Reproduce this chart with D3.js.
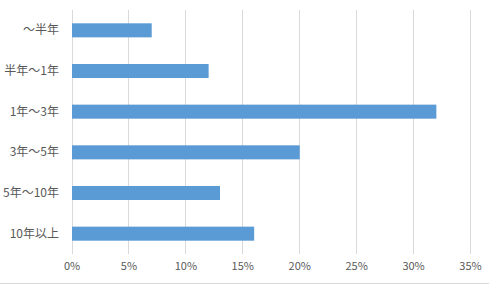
<!DOCTYPE html>
<html lang="ja">
<head>
	<meta charset="utf-8">
	<title>期間別割合</title>
	<script src="https://d3js.org/d3.v7.min.js"></script>
	<style>
		body{ margin: 0; background: #fff; }
		.axis text{ font-family: "Noto Sans CJK JP", sans-serif; font-size: 11px; fill: #595959; }
		.axis.y text{ font-size: 12px; }
	</style>
</head>
<body>
	<script>
		// data
		var categories = ["～半年", "半年～1年", "1年～3年", "3年～5年", "5年～10年", "10年以上"];
		var values = [7, 12, 32, 20, 13, 16];
		var tickValues = [0, 5, 10, 15, 20, 25, 30, 35];

		var w = 489;
		var h = 285;

		var svg = d3.select("body")
			.append("svg")
			.attr("width", w)
			.attr("height", h)
			;

		var xScale = d3.scaleLinear()
			.domain([0, 35])
			.range([71.5, 470]);

		var yScale = d3.scaleBand()
			.domain(categories)
			.range([10, 254])
			.paddingInner(0.655)
			.paddingOuter(0.3275);

		// vertical gridlines
		svg.selectAll("line.grid")
			.data(tickValues)
			.enter()
			.append("line")
			.attr("class", "grid")
			.attr("x1", function(d){ return Math.round(xScale(d)) + 0.5; })
			.attr("x2", function(d){ return Math.round(xScale(d)) + 0.5; })
			.attr("y1", 10)
			.attr("y2", 254)
			.attr("stroke", "#d9d9d9")
			.attr("stroke-width", 1)
			;

		// bars
		svg.selectAll("rect.bar")
			.data(values)
			.enter()
			.append("rect")
			.attr("class", "bar")
			.attr("x", xScale(0) + 0.5)
			.attr("y", function(d, i){ return yScale(categories[i]); })
			.attr("width", function(d){ return xScale(d) - xScale(0); })
			.attr("height", yScale.bandwidth())
			.attr("fill", "#5b9bd5")
			;

		// x axis labels
		var xAxis = d3.axisBottom(xScale)
			.tickValues(tickValues)
			.tickSize(0)
			.tickPadding(0)
			.tickFormat(function(d){ return d + "%"; });

		svg.append("g")
			.attr("class", "axis x")
			.attr("transform", "translate(0,262)")
			.call(xAxis)
			.call(function(g){ g.select(".domain").remove(); })
			;

		// y axis labels
		var yAxis = d3.axisLeft(yScale)
			.tickSize(0)
			.tickPadding(0);

		svg.append("g")
			.attr("class", "axis y")
			.attr("transform", "translate(59,0)")
			.call(yAxis)
			.call(function(g){ g.select(".domain").remove(); })
			;

		// chart border bottom
		svg.append("line")
			.attr("x1", 0)
			.attr("x2", w)
			.attr("y1", 283.5)
			.attr("y2", 283.5)
			.attr("stroke", "#d9d9d9")
			;
	</script>
</body>
</html>
